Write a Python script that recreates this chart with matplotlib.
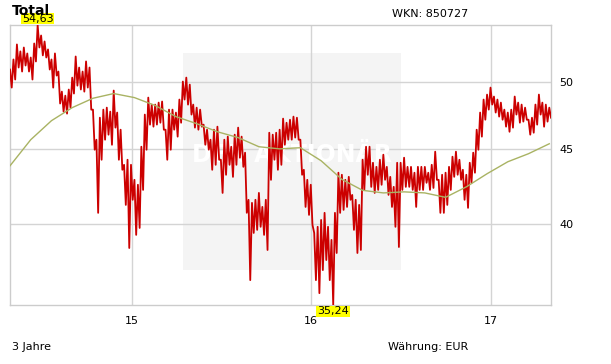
import numpy as np
import pandas as pd
import matplotlib
matplotlib.use("Agg")
import matplotlib.pyplot as plt
from matplotlib.ticker import FixedLocator, NullLocator, FixedFormatter

# weekly price range (high / low), EUR
high = [50.95, 51.76, 52.99, 52.42, 52.74, 52.25, 51.92, 53.07, 54.63, 53.74,
        53.24, 52.58, 51.76, 52.25, 50.79, 49.22, 48.91, 49.38, 50.31, 52.00,
        51.11, 50.79, 51.60, 51.11, 47.85, 45.65, 47.25, 47.85, 48.00, 47.70,
        49.30, 47.63, 46.37, 43.89, 44.24, 43.89, 42.87, 42.54, 45.15, 47.48,
        48.76, 48.23, 48.23, 48.38, 48.46, 46.37, 47.85, 47.85, 47.63, 48.61,
        50.00, 50.31, 49.76, 48.23, 48.00, 47.85, 46.74, 46.37, 45.65, 46.37,
        46.59, 44.24, 45.65, 45.87, 45.15, 46.01, 46.52, 45.87, 44.73, 41.55,
        41.35, 41.55, 42.00, 41.09, 41.55, 46.15, 46.01, 46.15, 46.37, 47.18,
        46.88, 47.10, 47.33, 47.25, 45.65, 43.55, 42.87, 42.54, 39.45, 39.83,
        40.26, 40.71, 39.83, 39.02, 40.71, 43.35, 43.21, 42.87, 43.07, 41.87,
        41.55, 41.22, 44.24, 45.15, 45.15, 44.03, 43.75, 44.24, 44.59, 43.75,
        43.07, 42.40, 44.03, 44.03, 44.38, 43.75, 43.75, 43.35, 43.75, 43.75,
        43.75, 43.35, 43.89, 44.80, 42.87, 43.21, 43.35, 43.75, 44.45, 44.80,
        44.24, 43.55, 43.21, 44.03, 44.73, 46.37, 47.63, 48.61, 48.99, 49.53,
        48.84, 48.61, 48.38, 47.85, 47.63, 47.85, 48.84, 48.38, 48.23, 48.00,
        47.10, 47.25, 48.23, 48.99, 48.38, 48.23, 48.00]
low = [49.53, 50.16, 51.11, 50.79, 51.27, 50.79, 50.16, 51.60, 52.74, 52.09,
       51.92, 50.95, 49.53, 50.47, 48.31, 47.70, 47.55, 48.00, 49.07, 49.68,
       49.38, 49.22, 49.53, 47.85, 44.94, 40.71, 44.24, 45.65, 46.01, 45.29,
       46.52, 44.24, 43.55, 41.22, 38.53, 41.55, 39.33, 39.76, 42.20, 44.94,
       46.74, 46.59, 46.74, 46.88, 46.37, 44.24, 44.94, 46.37, 45.87, 46.88,
       48.61, 48.23, 47.48, 46.52, 46.37, 46.59, 45.29, 44.94, 43.55, 43.89,
       44.24, 42.00, 43.21, 43.89, 43.07, 43.89, 44.38, 43.75, 40.71, 36.64,
       39.45, 39.64, 39.83, 39.33, 38.41, 42.87, 44.24, 43.55, 43.89, 45.29,
       45.65, 45.65, 45.80, 45.65, 43.21, 41.09, 40.58, 39.95, 36.64, 35.90,
       37.22, 37.81, 36.64, 35.24, 38.23, 40.71, 40.90, 41.09, 41.55, 39.64,
       38.23, 38.41, 42.20, 43.21, 42.40, 42.00, 42.20, 42.54, 42.87, 41.87,
       41.09, 39.83, 38.59, 42.20, 42.40, 42.40, 42.20, 41.09, 42.20, 42.20,
       42.67, 42.20, 42.33, 42.87, 40.71, 40.71, 41.22, 42.20, 43.07, 43.21,
       42.87, 41.55, 41.03, 42.67, 43.35, 44.94, 45.87, 47.10, 47.85, 48.23,
       47.63, 47.33, 47.10, 46.59, 46.22, 46.52, 47.48, 46.88, 46.96, 47.10,
       46.01, 46.15, 46.74, 47.48, 46.59, 46.96, 47.25]

# 200-day average, every 6th week
ma200 = [43.82, 45.65, 47.03, 48.00, 48.71, 49.07, 48.76, 48.16, 47.33, 46.81,
         46.22, 45.80, 45.15, 45.00, 45.08, 44.17, 42.90, 42.17, 42.00, 42.07,
         42.00, 41.71, 42.40, 43.28, 44.10, 44.66, 45.36]

y_ticks = [40, 45, 50]
year_ticks = ["2015-01-01", "2016-01-01", "2017-01-01"]
year_labels = ["15", "16", "17"]

dates = pd.date_range("2014-04-27", "2017-04-30", periods=len(high))
half = (dates[1] - dates[0]) / 2

# zigzag between weekly high and low
xs = np.empty(2 * len(dates), dtype="datetime64[ns]")
ys = np.empty(2 * len(dates))
xs[0::2] = dates.values
xs[1::2] = (dates + half).values
ys[0::2] = high
ys[1::2] = low

fig = plt.figure(figsize=(6.11, 3.64), dpi=100)
ax = fig.add_axes([10 / 611, 1 - 305 / 364, 541 / 611, 280 / 364])

# watermark (grey block + white lettering behind the data)
wm = plt.Rectangle((183 / 611, 1 - 270 / 364), 218 / 611, 217 / 364,
                   transform=fig.transFigure, facecolor="#f4f4f4",
                   edgecolor="none", zorder=0.2, clip_on=False)
ax.add_patch(wm)
ax.text(0.521, 0.535, "DER AKTIONÄR", transform=ax.transAxes, fontsize=17,
        fontweight="bold", color="white", ha="center", va="center", zorder=1.5)

ax.plot(xs, ys, color="#cc0000", lw=1.3, zorder=3)
ax.plot(dates[::6], ma200, color="#a9b363", lw=1.0, zorder=4)

ax.set_yscale("log")
ax.set_ylim(min(low), max(high))
ax.set_xlim(dates[0], dates[-1] + half)
ax.yaxis.set_major_locator(FixedLocator(y_ticks))
ax.yaxis.set_major_formatter(FixedFormatter([str(v) for v in y_ticks]))
ax.yaxis.set_minor_locator(NullLocator())
ax.yaxis.tick_right()
ax.set_xticks(pd.to_datetime(year_ticks))
ax.set_xticklabels(year_labels)
ax.tick_params(axis="y", length=0, pad=6, labelsize=8)
ax.tick_params(axis="x", length=0, pad=8, labelsize=8)
ax.grid(True, color="#d4d4d4", lw=1.0, zorder=1)
ax.set_axisbelow(True)
for s in ax.spines.values():
    s.set_color("#cccccc")
    s.set_linewidth(1.0)

# min / max labels
imax = int(np.argmax(high))
imin = int(np.argmin(low))
ax.annotate(f"{max(high):.2f}".replace(".", ","), xy=(dates[imax], max(high)),
            xytext=(0, 1), textcoords="offset points", ha="center", va="bottom",
            fontsize=8, annotation_clip=False, zorder=6,
            bbox=dict(boxstyle="square,pad=0.08", fc="#ffff00", ec="none"))
ax.annotate(f"{min(low):.2f}".replace(".", ","), xy=(dates[imin] + half, min(low)),
            xytext=(0, -1), textcoords="offset points", ha="center", va="top",
            fontsize=8, annotation_clip=False, zorder=6,
            bbox=dict(boxstyle="square,pad=0.08", fc="#ffff00", ec="none"))

fig.text(12 / 611, 1 - 11 / 364, "Total", fontsize=10, fontweight="bold",
         ha="left", va="center", zorder=0)
fig.text(392 / 611, 1 - 14 / 364, "WKN: 850727", fontsize=8, ha="left", va="center")
fig.text(12 / 611, 1 - 347 / 364, "3 Jahre", fontsize=8, ha="left", va="center")
fig.text(388 / 611, 1 - 347 / 364, "Währung: EUR", fontsize=8, ha="left", va="center")

fig.savefig("out.png", dpi=100)
